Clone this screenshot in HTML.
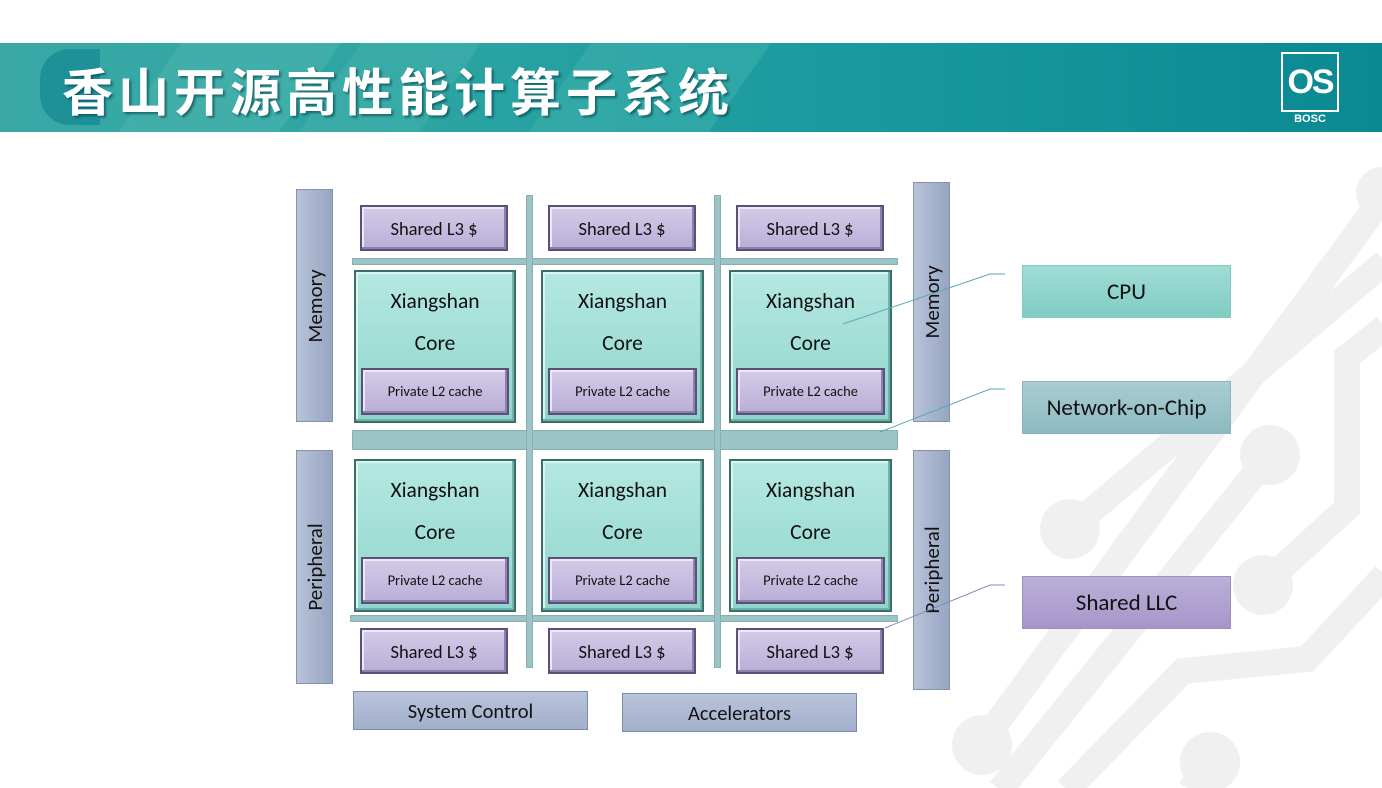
<!DOCTYPE html>
<html><head><meta charset="utf-8"><style>
*{margin:0;padding:0;box-sizing:border-box}
body{width:1382px;height:788px;background:#fff;position:relative;overflow:hidden;font-family:Carlito,"Liberation Sans",sans-serif;color:#111}
.a{position:absolute}
.banner{left:0;top:43px;width:1382px;height:89px;background:linear-gradient(90deg,#3aa9a6 0%,#2ca4a2 30%,#1a9aa0 60%,#0b8993 100%);overflow:hidden}
.title{left:62px;top:52px;font-family:"Liberation Sans","Noto Sans CJK SC",sans-serif;font-weight:bold;font-size:51px;color:#fff;letter-spacing:5px;text-shadow:2px 2px 2px rgba(0,60,70,.6);white-space:nowrap}
.l3{background:linear-gradient(#d4cbe9,#b9aed6);border:2px solid #5b5079;box-shadow:inset -2px -2px 0 #8c80ad,inset 2px 2px 0 #eee8f6;display:flex;align-items:center;justify-content:center;font-size:18.5px}
.core{background:linear-gradient(#b4e8e1,#8fd5cb);border:2px solid #3d6d68;box-shadow:inset -2px -2px 0 #6fb3aa,inset 2px 2px 0 #d8f5f1;text-align:center;font-size:21.5px;line-height:42px;padding-top:8px}
.l2{position:absolute;left:5px;right:5px;bottom:6px;height:47px;font-size:14.5px;line-height:43px}
.side{background:linear-gradient(90deg,#b8c3d8,#97a5c2);border:1px solid #8491af}
.vt{position:absolute;left:50%;top:50%;transform:translate(-50%,-50%) rotate(-90deg);font-size:21px;white-space:nowrap}
.bus{background:#9cc3c6;border:1px solid #86b0b4}
.bot{background:linear-gradient(#b9c4da,#a2afcb);border:1px solid #7d8bab;display:flex;align-items:center;justify-content:center;font-size:20.5px}
.leg{display:flex;align-items:center;justify-content:center;font-size:23px}
</style></head><body>
<svg class="a" style="left:0;top:0" width="1382" height="788">
<g stroke="#f0f0f0" stroke-width="26" fill="none" stroke-linejoin="miter">
<polyline points="1385,195 982,743"/>
<polyline points="1070,529 1385,262"/>
<polyline points="1270,455 1000,790"/>
<polyline points="1263,585 1347,508 1347,357 1385,327"/>
<polyline points="1385,575 1307,659 1183,671 1067,790"/>
<polyline points="1210,760 1190,790"/>
</g>
<g fill="#f0f0f0">
<circle cx="982" cy="745" r="30"/><circle cx="1070" cy="529" r="30"/><circle cx="1270" cy="455" r="30"/><circle cx="1263" cy="585" r="30"/><circle cx="1210" cy="762" r="30"/><circle cx="1382" cy="193" r="26"/>
</g>
</svg>
<div class="a banner">
<div class="a" style="left:150px;top:0;width:160px;height:89px;background:#4fb6b0;transform:skewX(-35deg);opacity:.5"></div>
<div class="a" style="left:330px;top:0;width:120px;height:89px;background:#49b3ae;transform:skewX(-35deg);opacity:.45"></div>
<div class="a" style="left:560px;top:0;width:180px;height:89px;background:#40b2ad;transform:skewX(-35deg);opacity:.5"></div>
<div class="a" style="left:40px;top:6px;width:60px;height:76px;border-radius:30px 0 0 30px;background:#1d9197"></div>
</div>
<div class="a title">香山开源高性能计算子系统</div>
<div class="a" style="left:1281px;top:52px;width:58px;height:60px;border:2px solid #fff;color:#fff;font-size:34px;font-weight:bold;line-height:56px;text-align:center;font-family:'Liberation Sans',sans-serif;letter-spacing:-2px">OS</div>
<div class="a" style="left:1281px;top:113px;width:58px;color:#fff;font-size:11px;font-weight:bold;text-align:center;font-family:'Liberation Sans',sans-serif">BOSC</div>

<div class="a side" style="left:296px;top:189px;width:37px;height:233px"><span class="vt">Memory</span></div>
<div class="a side" style="left:296px;top:450px;width:37px;height:234px"><span class="vt">Peripheral</span></div>
<div class="a side" style="left:913px;top:182px;width:37px;height:240px"><span class="vt">Memory</span></div>
<div class="a side" style="left:913px;top:450px;width:37px;height:240px"><span class="vt">Peripheral</span></div>

<div class="a bus" style="left:352px;top:258px;width:546px;height:7px"></div>
<div class="a bus" style="left:352px;top:430px;width:546px;height:20px"></div>
<div class="a bus" style="left:350px;top:615px;width:548px;height:7px"></div>
<div class="a bus" style="left:526px;top:195px;width:7px;height:473px"></div>
<div class="a bus" style="left:714px;top:195px;width:7px;height:473px"></div>

<div class="a l3" style="left:360px;top:205px;width:148px;height:46px">Shared L3 $</div>
<div class="a l3" style="left:548px;top:205px;width:148px;height:46px">Shared L3 $</div>
<div class="a l3" style="left:736px;top:205px;width:148px;height:46px">Shared L3 $</div>
<div class="a core" style="left:354px;top:270px;width:162px;height:153px">Xiangshan<br>Core<div class="l3 l2">Private L2 cache</div></div>
<div class="a core" style="left:541px;top:270px;width:163px;height:153px">Xiangshan<br>Core<div class="l3 l2">Private L2 cache</div></div>
<div class="a core" style="left:729px;top:270px;width:163px;height:153px">Xiangshan<br>Core<div class="l3 l2">Private L2 cache</div></div>
<div class="a core" style="left:354px;top:459px;width:162px;height:153px">Xiangshan<br>Core<div class="l3 l2">Private L2 cache</div></div>
<div class="a core" style="left:541px;top:459px;width:163px;height:153px">Xiangshan<br>Core<div class="l3 l2">Private L2 cache</div></div>
<div class="a core" style="left:729px;top:459px;width:163px;height:153px">Xiangshan<br>Core<div class="l3 l2">Private L2 cache</div></div>
<div class="a l3" style="left:360px;top:628px;width:148px;height:46px">Shared L3 $</div>
<div class="a l3" style="left:548px;top:628px;width:148px;height:46px">Shared L3 $</div>
<div class="a l3" style="left:736px;top:628px;width:148px;height:46px">Shared L3 $</div>

<div class="a bot" style="left:353px;top:691px;width:235px;height:39px">System Control</div>
<div class="a bot" style="left:622px;top:693px;width:235px;height:39px">Accelerators</div>

<svg class="a" style="left:0;top:0" width="1382" height="788">
<g stroke="#5aa7b5" stroke-width="1" fill="none">
<polyline points="843,324 990,274 1005,274"/>
<polyline points="880,432 990,389 1005,389"/>
<polyline points="885,628 990,585 1005,585" stroke="#7a8fb5"/>
</g></svg>

<div class="a leg" style="left:1022px;top:265px;width:209px;height:53px;background:linear-gradient(#a0dcd5,#7fcdc3);border:1px solid #86c9c0">CPU</div>
<div class="a leg" style="left:1022px;top:381px;width:209px;height:53px;background:linear-gradient(#a8cdd2,#8db9c0);border:1px solid #8ab5bc">Network-on-Chip</div>
<div class="a leg" style="left:1022px;top:576px;width:209px;height:53px;background:linear-gradient(#bbb0d8,#a596c8);border:1px solid #9d90c0">Shared LLC</div>
</body></html>
